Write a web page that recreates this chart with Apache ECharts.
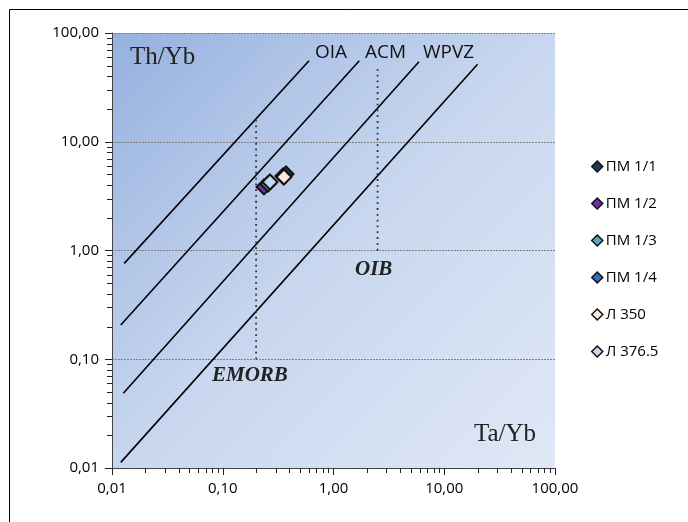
<!DOCTYPE html>
<html><head><meta charset="utf-8">
<script src="https://cdn.jsdelivr.net/npm/echarts@6/dist/echarts.min.js"></script>
<style>html,body{margin:0;padding:0;background:#fff}#c{width:688px;height:522px}</style>
</head><body><div id="c"></div>
<script>
// Samples
const seriesNames = ['ПМ 1/1', 'ПМ 1/2', 'ПМ 1/3', 'ПМ 1/4', 'Л 350', 'Л 376.5'];
const seriesColors = ['#1f3a5f', '#7030a0', '#4bacc6', '#2e6fb5', '#fde9d9', '#c6d9f1'];
const taYb = [0.3725, 0.2358, 0.2563, 0.35, 0.357, 0.267];
const thYb = [5.05, 3.84, 4.09, 4.84, 4.74, 4.27];
// Field boundary lines (Ta/Yb, Th/Yb end points)
const boundaryX = [[0.0129, 0.601], [0.0120, 1.71], [0.01265, 5.91], [0.0120, 20.0]];
const boundaryY = [[0.762, 55.6], [0.2065, 55.6], [0.0486, 54.5], [0.01127, 51.5]];
// Reference compositions (vertical dotted lines)
const refNames = ['EMORB', 'OIB'];
const refX = [0.2, 2.5];
const refY = [[0.1, 15.8], [1, 50.8]];
// Axes
const axisMin = 0.01, axisMax = 100;
const minorTicks = [0.02, 0.03, 0.04, 0.05, 0.06, 0.07, 0.08, 0.09,
  0.2, 0.3, 0.4, 0.5, 0.6, 0.7, 0.8, 0.9,
  2, 3, 4, 5, 6, 7, 8, 9,
  20, 30, 40, 50, 60, 70, 80, 90];

const fmt = v => Number(v).toFixed(2).replace('.', ',');
const sans = "'Open Sans', 'Noto Sans', sans-serif";
const serif = "'Liberation Serif', 'DejaVu Serif', serif";
const tickColor = '#222';

const chart = echarts.init(document.getElementById('c'));
const series = [];
boundaryX.forEach((xs, i) => {
  series.push({
    type: 'line', silent: true, symbol: 'none', z: 2,
    data: xs.map((x, j) => [x, boundaryY[i][j]]),
    lineStyle: {color: '#000', width: 1.6}
  });
});
refX.forEach((x, i) => {
  series.push({
    type: 'line', silent: true, symbol: 'none', z: 2,
    data: refY[i].map(y => [x, y]),
    lineStyle: {color: '#333', width: 1.8, type: [1.8, 4]}
  });
});
seriesNames.forEach((n, i) => {
  series.push({
    name: n, type: 'scatter', symbol: 'diamond', symbolSize: 15, z: 5,
    data: [[taYb[i], thYb[i]]],
    itemStyle: {color: seriesColors[i], borderColor: '#111', borderWidth: 2, opacity: 1}
  });
});

const axisCommon = {
  type: 'log', logBase: 10, min: axisMin, max: axisMax,
  axisLine: {show: true, lineStyle: {color: '#444', width: 1}},
  axisTick: {show: true, length: 7, inside: false, lineStyle: {color: tickColor, width: 1}},
  axisLabel: {color: '#000', fontSize: 15, fontFamily: sans, formatter: fmt, margin: 13}
};

const staticGraphics = [
  {type: 'rect', shape: {x: 9.5, y: 9.5, width: 760, height: 600}, style: {fill: 'none', stroke: '#000', lineWidth: 1}, silent: true},
  {type: 'text', left: 130, top: 45, style: {text: 'Th/Yb', font: "25px " + serif, fill: '#222'}, z: 10},
  {type: 'text', left: 474, top: 422, style: {text: 'Ta/Yb', font: "25px " + serif, fill: '#222'}, z: 10},
  {type: 'text', left: 315, top: 43, style: {text: 'OIA', font: "19px " + sans, fill: '#111'}, z: 10},
  {type: 'text', left: 365, top: 43, style: {text: 'ACM', font: "19px " + sans, fill: '#111'}, z: 10},
  {type: 'text', left: 423, top: 43, style: {text: 'WPVZ', font: "19px " + sans, fill: '#111'}, z: 10},
  {type: 'text', left: 212, top: 365, style: {text: 'EMORB', font: "italic bold 21px " + serif, fill: '#222'}, z: 10},
  {type: 'text', left: 355, top: 259, style: {text: 'OIB', font: "italic bold 21px " + serif, fill: '#222'}, z: 10}
];

chart.setOption({
  animation: false,
  backgroundColor: '#fff',
  grid: {
    left: 112, right: 133, top: 33, bottom: 54, show: true, borderWidth: 0,
    backgroundColor: new echarts.graphic.LinearGradient(0, 0, 1, 1, [
      {offset: 0, color: '#96b1df'},
      {offset: 0.5, color: '#c8d7ef'},
      {offset: 1, color: '#e0e8f6'}
    ])
  },
  xAxis: Object.assign({}, axisCommon, {splitLine: {show: false}}),
  yAxis: Object.assign({}, axisCommon, {
    splitLine: {show: true, lineStyle: {color: '#808080', width: 1, type: [2, 1]}}
  }),
  legend: {
    data: seriesNames, orient: 'vertical', left: 586, top: 154,
    icon: 'diamond', itemWidth: 11, itemHeight: 11, itemGap: 22,
    textStyle: {color: '#000', fontSize: 15, fontFamily: sans, padding: [0, 0, 0, -2]},
    itemStyle: {borderColor: '#111', borderWidth: 1.5}
  },
  series: series,
  graphic: staticGraphics
});

// Minor log ticks, placed through the axes' own scales
const tickGraphics = [];
minorTicks.forEach(v => {
  const px = chart.convertToPixel({gridIndex: 0}, [v, axisMin]);
  const x = Math.round(px[0]) + 0.5;
  tickGraphics.push({type: 'line', silent: true, z: 10,
    shape: {x1: x, y1: px[1], x2: x, y2: px[1] + 5}, style: {stroke: tickColor, lineWidth: 1}});
  const py = chart.convertToPixel({gridIndex: 0}, [axisMin, v]);
  const y = Math.round(py[1]) + 0.5;
  tickGraphics.push({type: 'line', silent: true, z: 10,
    shape: {x1: py[0] - 5, y1: y, x2: py[0], y2: y}, style: {stroke: tickColor, lineWidth: 1}});
});
chart.setOption({graphic: staticGraphics.concat(tickGraphics)});
</script></body></html>
